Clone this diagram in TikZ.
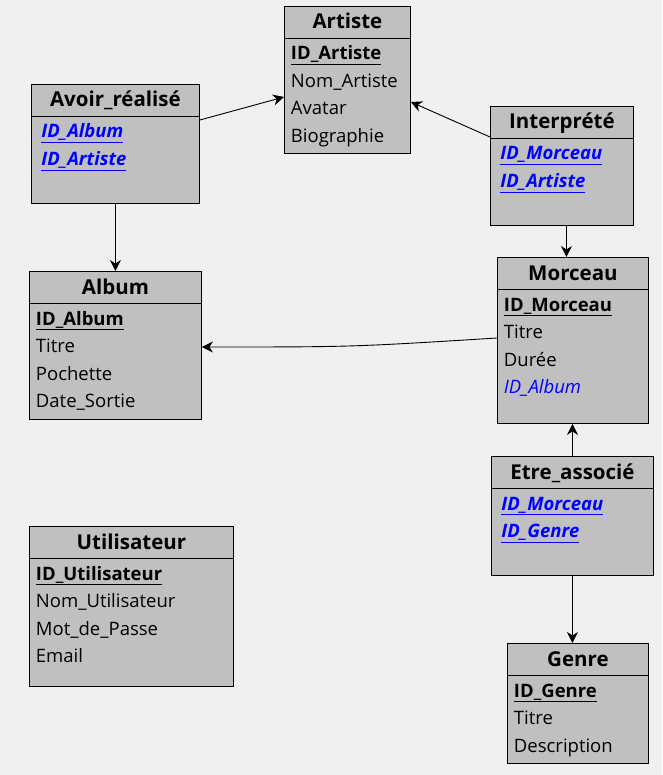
\documentclass[tikz,border=0pt]{standalone}
\usepackage{fontspec}
\setmainfont{Open Sans}
\usetikzlibrary{arrows.meta,calc,positioning}
\definecolor{bggray}{HTML}{F0F0F0}
\definecolor{boxgray}{HTML}{C0C0C0}
\definecolor{fkblue}{HTML}{0000FF}
\newcommand{\pk}[1]{\underline{\textbf{#1}}}
\newcommand{\fk}[1]{\textcolor{fkblue}{\underline{\textbf{\textit{#1}}}}}
\newcommand{\fkref}[1]{\textcolor{fkblue}{\textit{#1}}}
\tikzstyle{every picture}+=[>={Stealth[length=11pt,width=11pt,inset=3.5pt]}]
\tikzstyle{every picture}+=[line width=0.9pt]
\tikzstyle{every picture}+=[x=1pt,y=-1pt]
\tikzstyle{tbl}=[draw, fill=boxgray, anchor=north west, inner sep=0pt]
\tikzstyle{ttl}=[font=\fontsize{20.5}{20.5}\selectfont\bfseries, anchor=base, inner sep=0pt]
\tikzstyle{row}=[font=\fontsize{18.5}{18.5}\selectfont, anchor=base west, inner sep=0pt]
\begin{document}
\begin{tikzpicture}
\fill[bggray] (0,0) rectangle (662,775);

% tables
\node[tbl, minimum width=126, minimum height=147] (artiste) at (284,6) {};
\node[tbl, minimum width=168, minimum height=119] (avoir) at (31,84) {};
\node[tbl, minimum width=143, minimum height=119] (interprete) at (490,106) {};
\node[tbl, minimum width=151, minimum height=166] (morceau) at (497,257) {};
\node[tbl, minimum width=172, minimum height=148] (album) at (29,271) {};
\node[tbl, minimum width=204, minimum height=160] (utilisateur) at (29,526) {};
\node[tbl, minimum width=162, minimum height=119] (etre) at (491,456) {};
\node[tbl, minimum width=141, minimum height=120] (genre) at (507,643) {};

\foreach \t in {artiste,avoir,interprete,morceau,album,utilisateur,etre,genre}
  \draw ($(\t.north west)+(0,32)$) -- ($(\t.north east)+(0,32)$);

% titles
\node[ttl] (artiste-t) at ($(artiste.north)+(0,23)$) {Artiste};
\node[ttl] (avoir-t) at ($(avoir.north)+(0,23)$) {Avoir\_réalisé};
\node[ttl] (interprete-t) at ($(interprete.north)+(0,23)$) {Interprété};
\node[ttl] (morceau-t) at ($(morceau.north)+(0,23)$) {Morceau};
\node[ttl] (album-t) at ($(album.north)+(0,23)$) {Album};
\node[ttl] (utilisateur-t) at ($(utilisateur.north)+(0,23)$) {Utilisateur};
\node[ttl] (etre-t) at ($(etre.north)+(0,23)$) {Etre\_associé};
\node[ttl] (genre-t) at ($(genre.north)+(0,23)$) {Genre};

% rows
\node[row] (artiste-1) at ($(artiste.north west)+(6.5,54)$) {\pk{ID\_Artiste}};
\node[row] (artiste-2) at ($(artiste.north west)+(6.5,81.5)$) {Nom\_Artiste};
\node[row] (artiste-3) at ($(artiste.north west)+(6.5,109)$) {Avatar};
\node[row] (artiste-4) at ($(artiste.north west)+(6.5,136.5)$) {Biographie};

\node[row] (avoir-1) at ($(avoir.north west)+(10,54)$) {\fk{ID\_Album}};
\node[row] (avoir-2) at ($(avoir.north west)+(10,81.5)$) {\fk{ID\_Artiste}};

\node[row] (interprete-1) at ($(interprete.north west)+(10,54)$) {\fk{ID\_Morceau}};
\node[row] (interprete-2) at ($(interprete.north west)+(10,81.5)$) {\fk{ID\_Artiste}};

\node[row] (morceau-1) at ($(morceau.north west)+(6.5,54)$) {\pk{ID\_Morceau}};
\node[row] (morceau-2) at ($(morceau.north west)+(6.5,81.5)$) {Titre};
\node[row] (morceau-3) at ($(morceau.north west)+(6.5,109)$) {Durée};
\node[row] (morceau-4) at ($(morceau.north west)+(6.5,136.5)$) {\fkref{ID\_Album}};

\node[row] (album-1) at ($(album.north west)+(6.5,54)$) {\pk{ID\_Album}};
\node[row] (album-2) at ($(album.north west)+(6.5,81.5)$) {Titre};
\node[row] (album-3) at ($(album.north west)+(6.5,109)$) {Pochette};
\node[row] (album-4) at ($(album.north west)+(6.5,136.5)$) {Date\_Sortie};

\node[row] (utilisateur-1) at ($(utilisateur.north west)+(6.5,54)$) {\pk{ID\_Utilisateur}};
\node[row] (utilisateur-2) at ($(utilisateur.north west)+(6.5,81.5)$) {Nom\_Utilisateur};
\node[row] (utilisateur-3) at ($(utilisateur.north west)+(6.5,109)$) {Mot\_de\_Passe};
\node[row] (utilisateur-4) at ($(utilisateur.north west)+(6.5,136.5)$) {Email};

\node[row] (etre-1) at ($(etre.north west)+(10,54)$) {\fk{ID\_Morceau}};
\node[row] (etre-2) at ($(etre.north west)+(10,81.5)$) {\fk{ID\_Genre}};

\node[row] (genre-1) at ($(genre.north west)+(6.5,54)$) {\pk{ID\_Genre}};
\node[row] (genre-2) at ($(genre.north west)+(6.5,81.5)$) {Titre};
\node[row] (genre-3) at ($(genre.north west)+(6.5,109)$) {Description};

% links
\coordinate (im) at ($(interprete.south)+(4.5,0)$);
\draw[->] ($(avoir.north east)+(0,36)$) -- ($(artiste.north west)+(0,91)$);
\draw[->] (avoir.south) -- (album.north);
\draw[->] ($(interprete.north west)+(0,31)$) -- ($(artiste.north east)+(0,96)$);
\draw[->] (im) -- (im |- morceau.north);
\draw[->] ($(morceau.north west)+(0,81)$) .. controls ($(album.north east)+(150,76)$) .. ($(album.north east)+(0,76)$);
\draw[->] (etre.north) -- (etre.north |- morceau.south);
\draw[->] (etre.south) -- (etre.south |- genre.north);
\end{tikzpicture}
\end{document}
